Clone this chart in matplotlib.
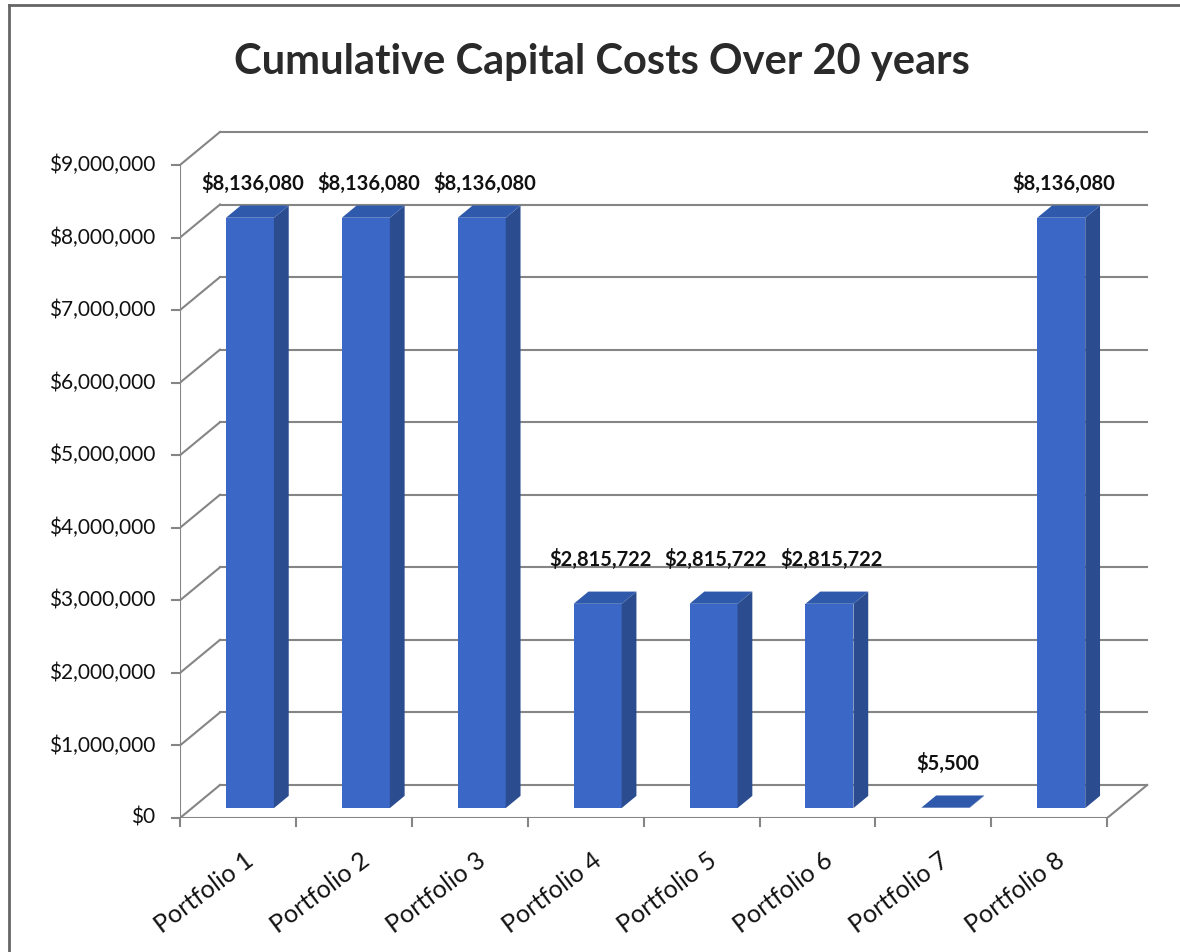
import matplotlib
matplotlib.use("Agg")
import matplotlib.pyplot as plt
from matplotlib.patches import Polygon, Rectangle
from matplotlib.lines import Line2D

plt.rcParams['font.family'] = ['Lato', 'DejaVu Sans']

# valeurs du graphique
portfolios = ['Portfolio 1', 'Portfolio 2', 'Portfolio 3', 'Portfolio 4',
              'Portfolio 5', 'Portfolio 6', 'Portfolio 7', 'Portfolio 8']
costs = [8136080, 8136080, 8136080, 2815722, 2815722, 2815722, 5500, 8136080]
y_ticks = [0, 1000000, 2000000, 3000000, 4000000, 5000000,
           6000000, 7000000, 8000000, 9000000]
title = 'Cumulative Capital Costs Over 20 years'

# profondeur de la pseudo 3D (en unites de donnees)
DX = 0.345
DY = 455000
d0, d1 = 0.30, 0.67
w = 0.414

fig = plt.figure(figsize=(11.8, 9.52), dpi=100)
W, H = 1180, 952
ax = fig.add_axes([180 / W, (H - 818) / H, (1150 - 180) / W, (818 - 128) / H])
ax.set_xlim(-0.5, -0.5 + 970 / 115.9)
ax.set_ylim(0, 690 / 72.56 * 1e6)
ax.axis('off')

grid = '#858585'
n = len(portfolios)
# murs : lignes de grille sur le fond et diagonales sur le cote gauche
for v in y_ticks:
    ax.plot([-0.5 + DX, n - 0.5 + DX], [v + DY, v + DY], color=grid, lw=1.5, zorder=1)
    ax.plot([-0.5, -0.5 + DX], [v, v + DY], color=grid, lw=1.5, zorder=1)
    ax.plot([-0.5 - 0.065, -0.5], [v, v], color=grid, lw=1.5, clip_on=False)
    ax.text(-0.5 - 0.215, v, '${:,.0f}'.format(v), ha='right', va='center',
            fontsize=15, color='#111111')
# sol
ax.plot([-0.5, n - 0.5], [0, 0], color=grid, lw=1.5, zorder=1)
ax.plot([n - 0.5, n - 0.5 + DX], [0, DY], color=grid, lw=1.5, zorder=1)
ax.plot([-0.5, -0.5], [0, y_ticks[-1]], color=grid, lw=1.5, zorder=1)
for k in range(n + 1):
    ax.plot([k - 0.5, k - 0.5], [0, -110000], color=grid, lw=1.5, clip_on=False)

front = '#3b67c6'
side = '#2b4d90'
top = '#2f59ab'
for i, v in enumerate(costs):
    xl = i - w / 2 + d0 * DX
    xr = i + w / 2 + d0 * DX
    y0 = d0 * DY
    ax.add_patch(Rectangle((xl, y0), w, v, fc=front, ec='none', zorder=3))
    ax.add_patch(Polygon([(xr, y0), (xr + (d1 - d0) * DX, d1 * DY),
                          (xr + (d1 - d0) * DX, v + d1 * DY), (xr, v + y0)],
                         closed=True, fc=side, ec='none', zorder=3))
    ax.add_patch(Polygon([(xl, v + y0), (xr, v + y0),
                          (xr + (d1 - d0) * DX, v + d1 * DY), (xl + (d1 - d0) * DX, v + d1 * DY)],
                         closed=True, fc=top, ec='none', zorder=3))
    ly = min(v + 750000, 8750000)
    ax.text(i + 0.125, ly, '${:,.0f}'.format(v), ha='center', va='center',
            fontsize=14.5, fontweight='bold', color='#111111', zorder=4)
    ax.text(i + 0.05, -420000, portfolios[i], rotation=37, rotation_mode='anchor',
            ha='right', va='top', fontsize=18, color='#111111')

fig.text(602 / W, 1 - 62 / H, title, ha='center', va='center',
         fontsize=30, fontweight='bold', color='#2a2a2a')
# bordure (haut et gauche seulement)
fig.add_artist(Line2D([9 / W, 9 / W], [0, 1 - 5 / H], transform=fig.transFigure,
                      color='#666666', lw=2))
fig.add_artist(Line2D([9 / W, 1], [1 - 5 / H, 1 - 5 / H], transform=fig.transFigure,
                      color='#666666', lw=2))

fig.savefig('out.png', dpi=100)
